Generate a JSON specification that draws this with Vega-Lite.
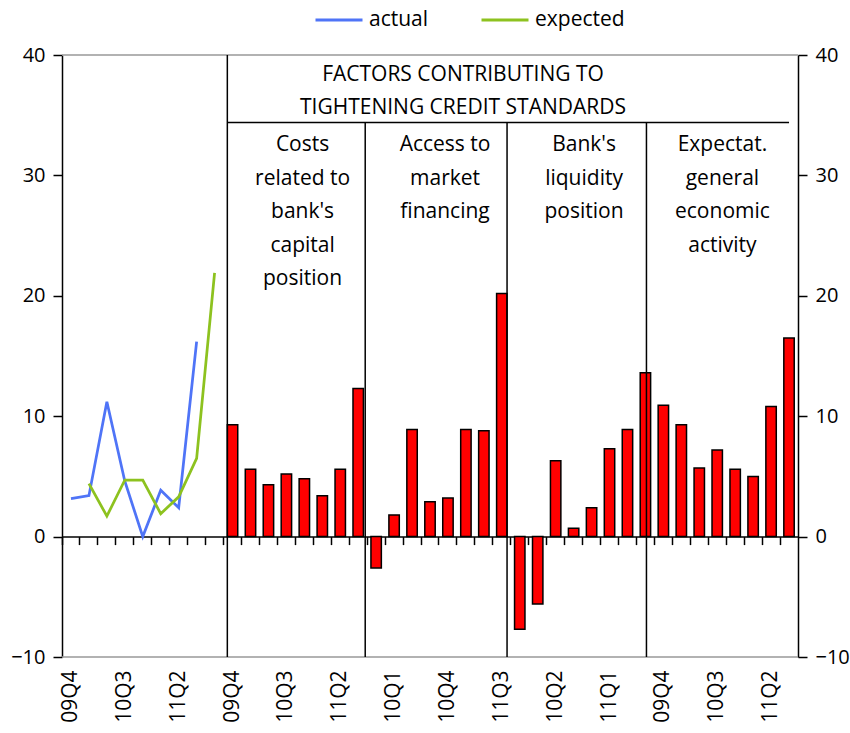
{
  "$schema": "https://vega.github.io/schema/vega-lite/v6.json",
  "width": 736,
  "height": 602,
  "autosize": "none",
  "padding": {"left": 62, "top": 55, "right": 52, "bottom": 76},
  "background": "white",
  "config": {
    "view": {"stroke": null},
    "font": "Open Sans",
    "axis": {"labelFont": "Open Sans", "labelColor": "#000", "grid": false, "title": null},
    "legend": {"labelFont": "Open Sans"}
  },
  "datasets": {
    "bars": [
      {"slot": "B 09Q4", "series": "Costs related to bank's capital position", "value": 9.3},
      {"slot": "B 10Q1", "series": "Costs related to bank's capital position", "value": 5.6},
      {"slot": "B 10Q2", "series": "Costs related to bank's capital position", "value": 4.3},
      {"slot": "B 10Q3", "series": "Costs related to bank's capital position", "value": 5.2},
      {"slot": "B 10Q4", "series": "Costs related to bank's capital position", "value": 4.8},
      {"slot": "B 11Q1", "series": "Costs related to bank's capital position", "value": 3.4},
      {"slot": "B 11Q2", "series": "Costs related to bank's capital position", "value": 5.6},
      {"slot": "B 11Q3", "series": "Costs related to bank's capital position", "value": 12.3},
      {"slot": "C 09Q4", "series": "Access to market financing", "value": -2.6},
      {"slot": "C 10Q1", "series": "Access to market financing", "value": 1.8},
      {"slot": "C 10Q2", "series": "Access to market financing", "value": 8.9},
      {"slot": "C 10Q3", "series": "Access to market financing", "value": 2.9},
      {"slot": "C 10Q4", "series": "Access to market financing", "value": 3.2},
      {"slot": "C 11Q1", "series": "Access to market financing", "value": 8.9},
      {"slot": "C 11Q2", "series": "Access to market financing", "value": 8.8},
      {"slot": "C 11Q3", "series": "Access to market financing", "value": 20.2},
      {"slot": "D 09Q4", "series": "Bank's liquidity position", "value": -7.7},
      {"slot": "D 10Q1", "series": "Bank's liquidity position", "value": -5.6},
      {"slot": "D 10Q2", "series": "Bank's liquidity position", "value": 6.3},
      {"slot": "D 10Q3", "series": "Bank's liquidity position", "value": 0.7},
      {"slot": "D 10Q4", "series": "Bank's liquidity position", "value": 2.4},
      {"slot": "D 11Q1", "series": "Bank's liquidity position", "value": 7.3},
      {"slot": "D 11Q2", "series": "Bank's liquidity position", "value": 8.9},
      {"slot": "D 11Q3", "series": "Bank's liquidity position", "value": 13.6},
      {"slot": "E 09Q4", "series": "Expectations regarding general economic activity", "value": 10.9},
      {"slot": "E 10Q1", "series": "Expectations regarding general economic activity", "value": 9.3},
      {"slot": "E 10Q2", "series": "Expectations regarding general economic activity", "value": 5.7},
      {"slot": "E 10Q3", "series": "Expectations regarding general economic activity", "value": 7.2},
      {"slot": "E 10Q4", "series": "Expectations regarding general economic activity", "value": 5.6},
      {"slot": "E 11Q1", "series": "Expectations regarding general economic activity", "value": 5.0},
      {"slot": "E 11Q2", "series": "Expectations regarding general economic activity", "value": 10.8},
      {"slot": "E 11Q3", "series": "Expectations regarding general economic activity", "value": 16.5}
    ],
    "lines": [
      {"slot": "A 09Q4", "series": "actual", "value": 3.15},
      {"slot": "A 10Q1", "series": "actual", "value": 3.4},
      {"slot": "A 10Q2", "series": "actual", "value": 11.2},
      {"slot": "A 10Q3", "series": "actual", "value": 4.6},
      {"slot": "A 10Q4", "series": "actual", "value": 0.0},
      {"slot": "A 11Q1", "series": "actual", "value": 3.85},
      {"slot": "A 11Q2", "series": "actual", "value": 2.4},
      {"slot": "A 11Q3", "series": "actual", "value": 16.2},
      {"slot": "A 10Q1", "series": "expected", "value": 4.4},
      {"slot": "A 10Q2", "series": "expected", "value": 1.7},
      {"slot": "A 10Q3", "series": "expected", "value": 4.7},
      {"slot": "A 10Q4", "series": "expected", "value": 4.7},
      {"slot": "A 11Q1", "series": "expected", "value": 1.9},
      {"slot": "A 11Q2", "series": "expected", "value": 3.3},
      {"slot": "A 11Q3", "series": "expected", "value": 6.5},
      {"slot": "A 11Q4", "series": "expected", "value": 21.9}
    ]
  },
  "layer": [
    {
      "data": {"name": "bars"},
      "mark": {"type": "bar", "fill": "#ff0000", "stroke": "#000", "strokeWidth": 1.5},
      "encoding": {
        "x": {
          "field": "slot", "type": "nominal",
          "scale": {"paddingInner": 0.42, "paddingOuter": 0.21},
          "axis": {
            "orient": "bottom",
            "values": ["A 09Q4", "A 10Q3", "A 11Q2", "B 09Q4", "B 10Q3", "B 11Q2", "C 10Q1", "C 10Q4", "C 11Q3", "D 10Q2", "D 11Q1", "E 09Q4", "E 10Q3", "E 11Q2"],
            "labelExpr": "substring(datum.value, 2)",
            "labelAngle": -90, "labelFontSize": 21, "labelPadding": 13,
            "ticks": false, "domain": false, "title": null
          }
        },
        "y": {
          "field": "value", "type": "quantitative",
          "scale": {"domain": [-10, 40], "nice": false, "zero": false},
          "axis": {
            "orient": "left", "values": [-10, 0, 10, 20, 30, 40],
            "tickSize": 9, "tickWidth": 1.5, "tickColor": "#000",
            "domainColor": "#000", "domainWidth": 1.5,
            "labelFontSize": 20, "labelPadding": 8, "title": null
          }
        }
      }
    },
    {
      "data": {"name": "lines"},
      "mark": {"type": "line", "strokeWidth": 2.75},
      "encoding": {
        "x": {
          "field": "slot", "type": "nominal",
          "axis": {
            "orient": "bottom", "offset": -120.4, "labels": false,
            "tickSize": 8, "tickWidth": 1.5, "tickColor": "#000",
            "domainColor": "#000", "domainWidth": 1.5,
            "bandPosition": -0.36, "title": null
          }
        },
        "y": {
          "field": "value", "type": "quantitative",
          "axis": {
            "orient": "right", "values": [-10, 0, 10, 20, 30, 40],
            "tickSize": 9, "tickWidth": 1.5, "tickColor": "#000",
            "domainColor": "#000", "domainWidth": 1.5,
            "labelFontSize": 20, "labelPadding": 8, "title": null
          }
        },
        "color": {
          "field": "series", "type": "nominal",
          "scale": {"domain": ["actual", "expected"], "range": ["#4f74f7", "#8dc21f"]},
          "legend": {
            "orient": "none", "legendX": 252, "legendY": -60, "direction": "horizontal",
            "title": null, "symbolType": "stroke", "symbolSize": 2209, "symbolStrokeWidth": 3,
            "labelFontSize": 21, "labelColor": "#000", "labelOffset": 5, "columnPadding": 46
          }
        }
      }
    },
    {
      "data": {"values": [{}]},
      "mark": {"type": "rule", "stroke": "#999999", "strokeWidth": 1.5},
      "encoding": {"y": {"datum": 40, "type": "quantitative", "axis": null}}
    },
    {
      "data": {"values": [{}]},
      "mark": {"type": "rule", "stroke": "#999999", "strokeWidth": 1.5},
      "encoding": {"y": {"datum": -10, "type": "quantitative", "axis": null}}
    },
    {
      "data": {"values": [{}]},
      "mark": {"type": "rule", "stroke": "#000", "strokeWidth": 1.5},
      "encoding": {"x": {"datum": "B 09Q4", "type": "nominal", "bandPosition": 0, "axis": null}}
    },
    {
      "data": {"values": [{}]},
      "mark": {"type": "rule", "stroke": "#000", "strokeWidth": 1.5},
      "encoding": {
        "x": {"datum": "B 09Q4", "type": "nominal", "bandPosition": 0, "axis": null},
        "x2": {"datum": "E 11Q3"},
        "y": {"datum": 34.4, "type": "quantitative", "axis": null}
      }
    },
    {
      "data": {"values": [{}]},
      "mark": {"type": "rule", "stroke": "#000", "strokeWidth": 1.5},
      "encoding": {
        "x": {"datum": "C 09Q4", "type": "nominal", "bandPosition": -0.55, "axis": null},
        "y": {"datum": 34.4, "type": "quantitative", "axis": null},
        "y2": {"datum": -10}
      }
    },
    {
      "data": {"values": [{}]},
      "mark": {"type": "rule", "stroke": "#000", "strokeWidth": 1.5},
      "encoding": {
        "x": {"datum": "D 09Q4", "type": "nominal", "bandPosition": -0.72, "axis": null},
        "y": {"datum": 34.4, "type": "quantitative", "axis": null},
        "y2": {"datum": -10}
      }
    },
    {
      "data": {"values": [{}]},
      "mark": {"type": "rule", "stroke": "#000", "strokeWidth": 1.5},
      "encoding": {
        "x": {"datum": "D 11Q3", "type": "nominal", "bandPosition": 0.6, "axis": null},
        "y": {"datum": 34.4, "type": "quantitative", "axis": null},
        "y2": {"datum": -10}
      }
    },
    {
      "data": {"values": [{}]},
      "mark": {"type": "text", "text": ["FACTORS CONTRIBUTING TO", "TIGHTENING CREDIT STANDARDS"], "font": "Open Sans", "fontSize": 21, "lineHeight": 33, "baseline": "top", "align": "center", "color": "#000"},
      "encoding": {
        "x": {"datum": "C 11Q1", "type": "nominal", "bandPosition": 0.22, "axis": null},
        "y": {"datum": 39.25, "type": "quantitative", "axis": null}
      }
    },
    {
      "data": {"values": [{}]},
      "mark": {"type": "text", "text": ["Costs", "related to", "bank's", "capital", "position"], "font": "Open Sans", "fontSize": 21, "lineHeight": 33.5, "baseline": "top", "align": "center", "color": "#000"},
      "encoding": {
        "x": {"datum": "B 10Q4", "type": "nominal", "bandPosition": 0.33, "axis": null},
        "y": {"datum": 33.4, "type": "quantitative", "axis": null}
      }
    },
    {
      "data": {"values": [{}]},
      "mark": {"type": "text", "text": ["Access to", "market", "financing"], "font": "Open Sans", "fontSize": 21, "lineHeight": 33.5, "baseline": "top", "align": "center", "color": "#000"},
      "encoding": {
        "x": {"datum": "C 10Q4", "type": "nominal", "bandPosition": 0.22, "axis": null},
        "y": {"datum": 33.4, "type": "quantitative", "axis": null}
      }
    },
    {
      "data": {"values": [{}]},
      "mark": {"type": "text", "text": ["Bank's", "liquidity", "position"], "font": "Open Sans", "fontSize": 21, "lineHeight": 33.5, "baseline": "top", "align": "center", "color": "#000"},
      "encoding": {
        "x": {"datum": "D 10Q4", "type": "nominal", "bandPosition": -0.22, "axis": null},
        "y": {"datum": 33.4, "type": "quantitative", "axis": null}
      }
    },
    {
      "data": {"values": [{}]},
      "mark": {"type": "text", "text": ["Expectat.", "general", "economic", "activity"], "font": "Open Sans", "fontSize": 21, "lineHeight": 33.5, "baseline": "top", "align": "center", "color": "#000"},
      "encoding": {
        "x": {"datum": "E 10Q3", "type": "nominal", "bandPosition": 1.0, "axis": null},
        "y": {"datum": 33.4, "type": "quantitative", "axis": null}
      }
    }
  ],
  "resolve": {"axis": {"x": "independent", "y": "independent"}}
}
